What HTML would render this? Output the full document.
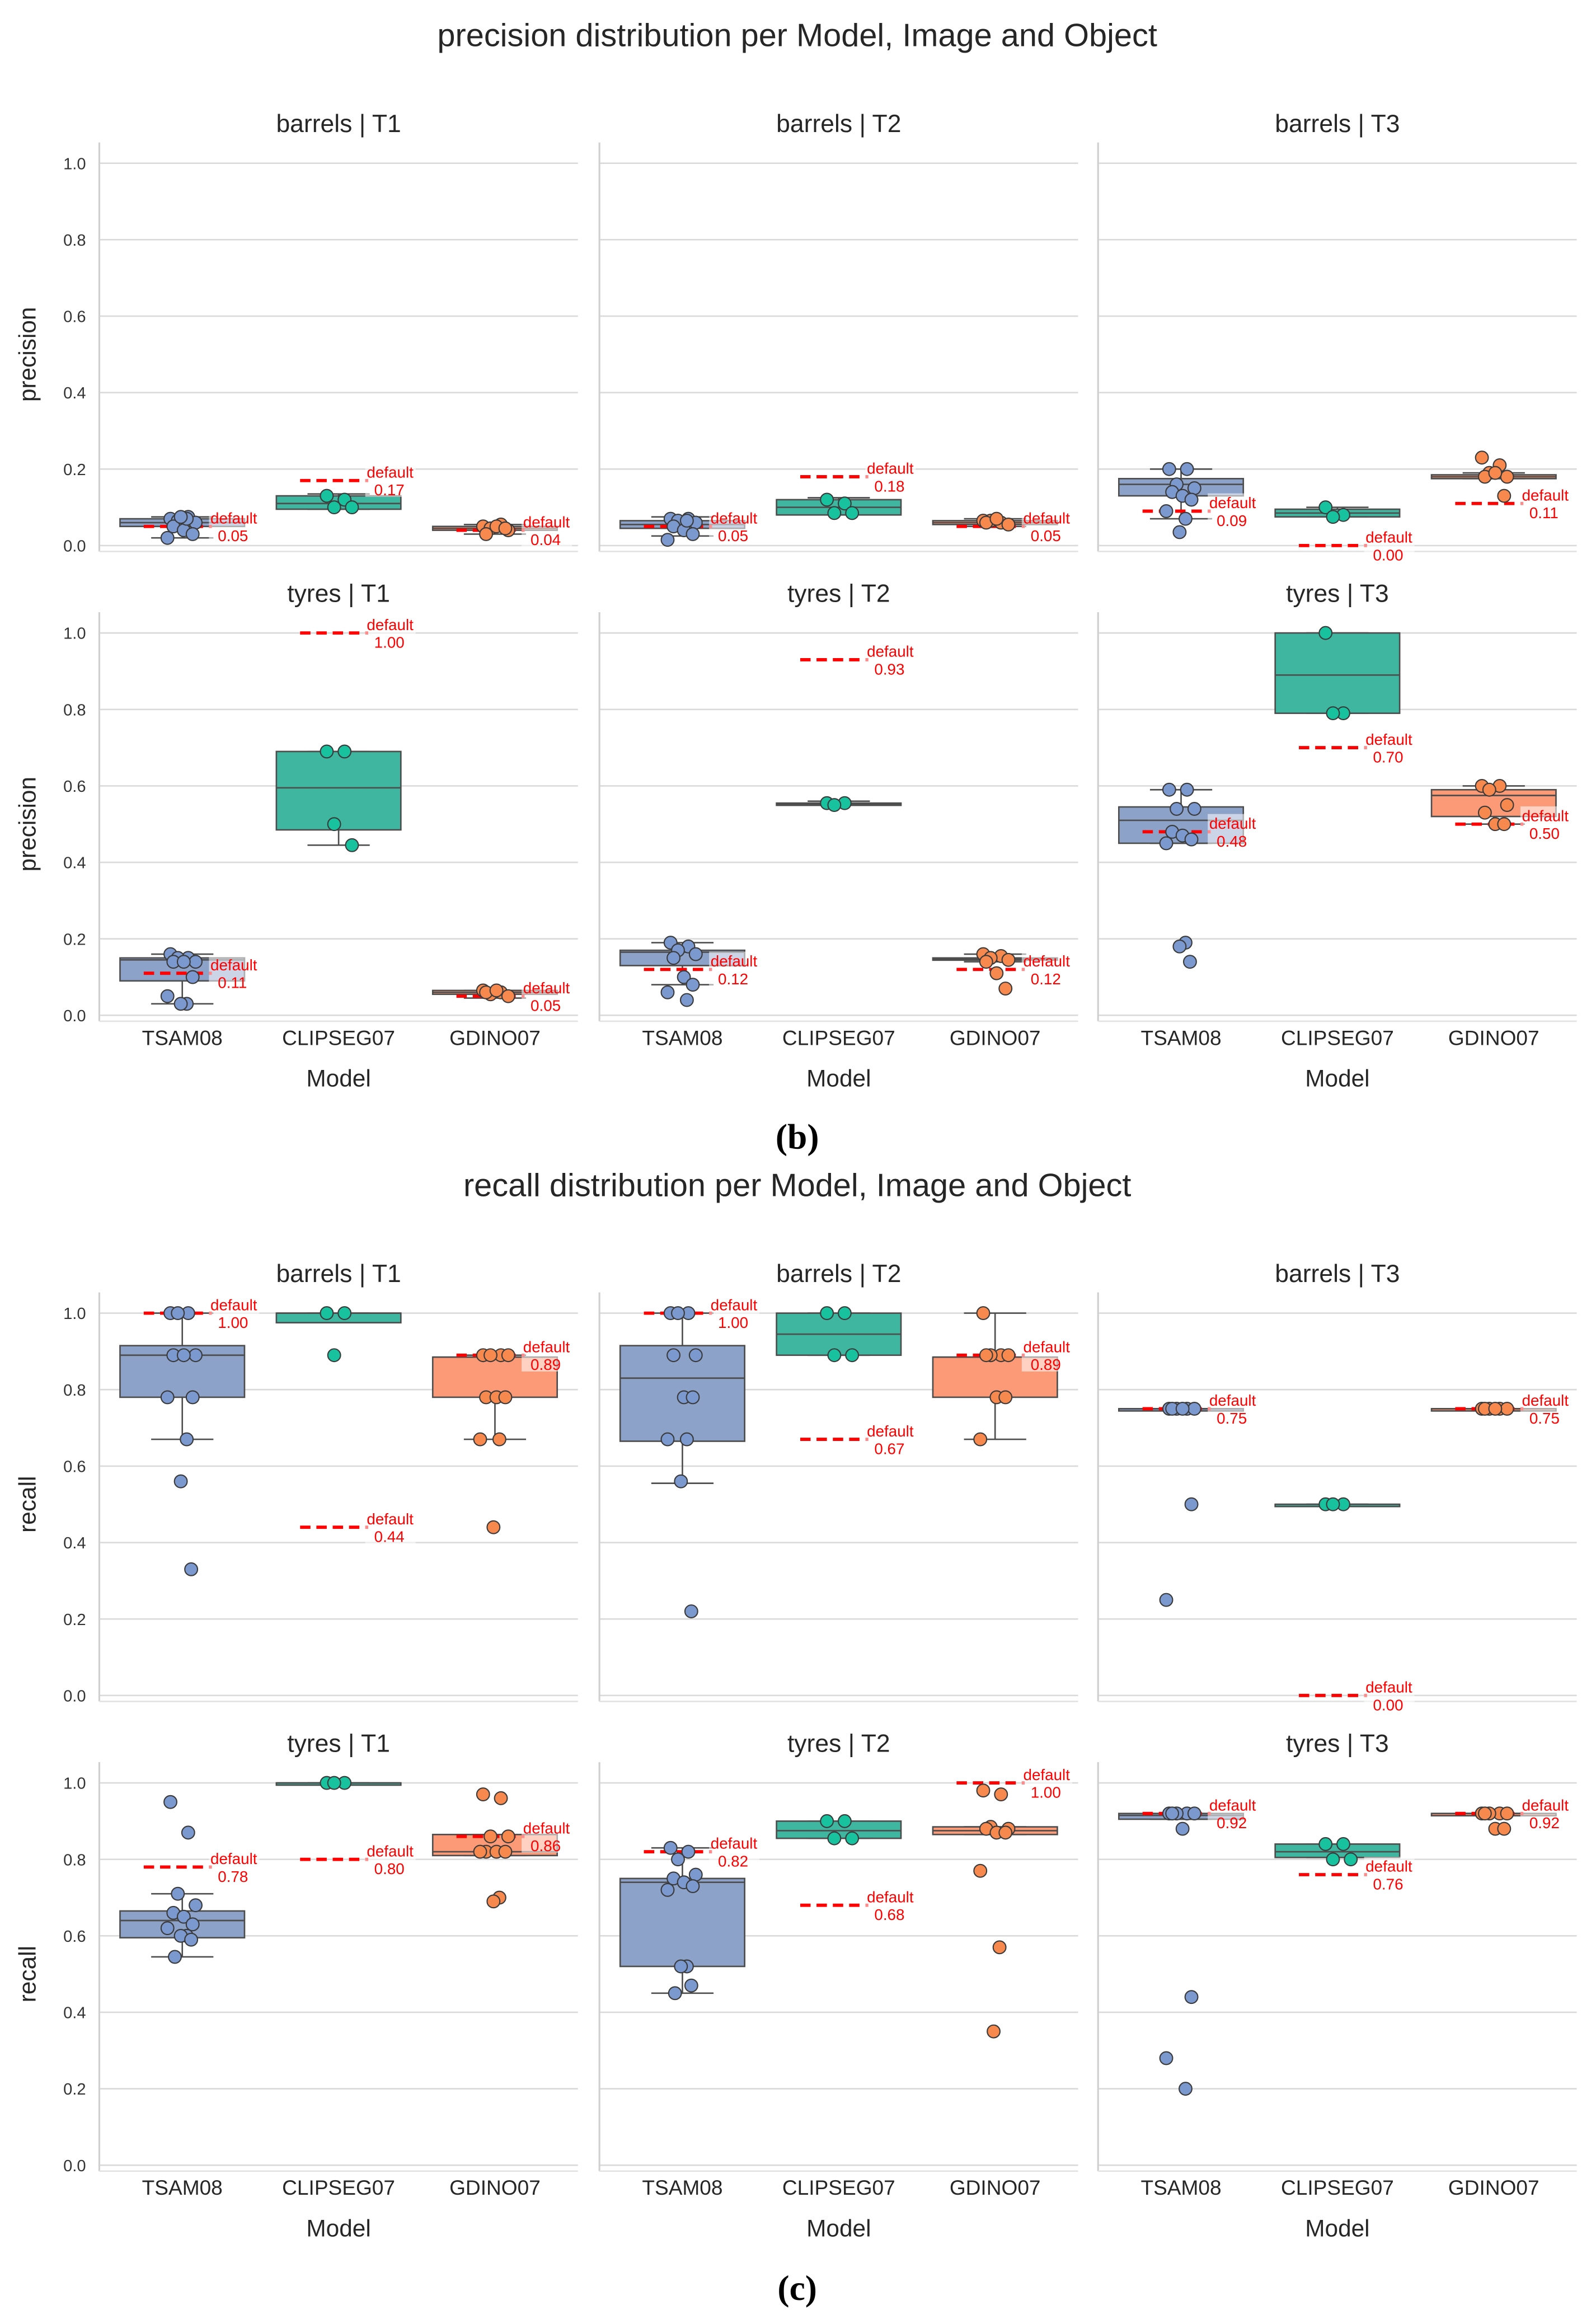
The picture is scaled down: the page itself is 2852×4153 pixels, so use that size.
<!DOCTYPE html>
<html><head><meta charset="utf-8">
<style>
html,body{margin:0;padding:0;background:#fff;}
svg{display:block;}
text{font-family:"Liberation Sans",Arial,sans-serif;}
</style></head>
<body>
<svg id="chart" width="2852" height="4153" viewBox="0 0 1077 1568" xmlns="http://www.w3.org/2000/svg">
<rect x="0" y="0" width="1077" height="1568" fill="#fff"/>
<text x="538" y="31" font-size="21.8" text-anchor="middle" fill="#262626">precision distribution per Model, Image and Object</text>
<text x="538" y="807" font-size="21.8" text-anchor="middle" fill="#262626">recall distribution per Model, Image and Object</text>
<text x="538" y="775" font-size="24" font-weight="bold" text-anchor="middle" fill="#000" style="font-family:'Liberation Serif',serif">(b)</text>
<text x="538" y="1552" font-size="24" font-weight="bold" text-anchor="middle" fill="#000" style="font-family:'Liberation Serif',serif">(c)</text>
<g id="plots"></g>
</svg>
<script>
// ---- data ----
const models = ["TSAM08","CLIPSEG07","GDINO07"];
const objects = ["barrels","tyres"];
const tasks = ["T1","T2","T3"];
const metrics = ["precision","recall"];
const yTicks = [0.0,0.2,0.4,0.6,0.8,1.0];
const yTickLabels = ["0.0","0.2","0.4","0.6","0.8","1.0"];
// box stats per panel per model: [whiskerLow, q1, median, q3, whiskerHigh]
const boxPrecision = [
 [
  [[.02,.05,.06,.07,.075],[.095,.095,.11,.13,.135],[.03,.04,.045,.05,.055]],
  [[.025,.045,.055,.065,.075],[.08,.08,.10,.12,.125],[.05,.055,.06,.065,.07]],
  [[.07,.13,.16,.175,.2],[.075,.075,.085,.095,.1],[.175,.175,.18,.185,.19]]
 ],
 [
  [[.03,.09,.145,.15,.16],[.445,.485,.595,.69,.69],[.045,.055,.06,.065,.065]],
  [[.08,.13,.165,.17,.19],[.55,.55,.553,.555,.56],[.14,.145,.148,.15,.16]],
  [[.45,.45,.51,.545,.59],[.79,.79,.89,1.0,1.0],[.5,.52,.575,.59,.6]]
 ]
];
const boxRecall = [
 [
  [[.67,.78,.89,.915,1.0],[.975,.975,1.0,1.0,1.0],[.67,.78,.885,.885,.89]],
  [[.555,.665,.83,.915,1.0],[.89,.89,.945,1.0,1.0],[.67,.78,.885,.885,1.0]],
  [[.75,.75,.75,.75,.75],[.5,.5,.5,.5,.5],[.75,.75,.75,.75,.75]]
 ],
 [
  [[.545,.595,.64,.665,.71],[1.0,1.0,1.0,1.0,1.0],[.81,.81,.82,.865,.865]],
  [[.45,.52,.74,.75,.83],[.855,.855,.875,.9,.9],[.865,.865,.875,.885,.885]],
  [[.905,.905,.915,.92,.92],[.805,.805,.82,.84,.84],[.92,.92,.92,.92,.92]]
 ]
];
const pointsPrecision = [
 [
  [[.07,.075,.065,.06,.05,.04,.03,.02,.07,.075],[.13,.12,.1,.1],[.05,.055,.045,.04,.03,.05,.045]],
  [[.07,.07,.065,.06,.05,.04,.03,.015,.065],[.12,.11,.085,.085],[.065,.06,.065,.055,.06,.07]],
  [[.2,.2,.16,.15,.14,.13,.12,.09,.07,.035],[.1,.08,.075],[.23,.21,.19,.18,.18,.19,.13]]
 ],
 [
  [[.16,.15,.15,.14,.14,.14,.1,.05,.03,.03],[.69,.69,.5,.445],[.065,.06,.055,.05,.06,.065]],
  [[.19,.18,.17,.16,.15,.1,.08,.06,.04],[.555,.555,.55],[.16,.155,.15,.145,.14,.11,.07]],
  [[.59,.59,.54,.54,.48,.47,.46,.45,.19,.18,.14],[1.0,.79,.79],[.6,.6,.59,.55,.53,.5,.5]]
 ]
];
const pointsRecall = [
 [
  [[1,1,1,.89,.89,.89,.78,.78,.67,.56,.33],[1,1,.89],[.89,.89,.89,.89,.78,.78,.78,.67,.67,.44]],
  [[1,1,1,.89,.89,.78,.78,.67,.67,.56,.22],[1,1,.89,.89],[1,.89,.89,.89,.89,.78,.78,.67]],
  [[.75,.75,.75,.75,.75,.75,.5,.25],[.5,.5,.5],[.75,.75,.75,.75,.75,.75]]
 ],
 [
  [[.95,.87,.71,.68,.66,.65,.63,.62,.6,.6,.59,.545],[1,1,1],[.97,.96,.86,.86,.82,.82,.82,.82,.7,.69]],
  [[.83,.82,.8,.76,.75,.74,.73,.72,.52,.52,.47,.45],[.9,.9,.855,.855],[.98,.97,.885,.88,.88,.87,.87,.77,.57,.35]],
  [[.92,.92,.92,.92,.92,.88,.44,.28,.2],[.84,.84,.8,.8],[.92,.92,.92,.92,.92,.88,.88]]
 ]
];
const defaultsPrecision = [[[.05,.17,.04],[.05,.18,.05],[.09,0.0,.11]],[[.11,1.0,.05],[.12,.93,.12],[.48,.70,.50]]];
const defaultsRecall = [[[1.0,.44,.89],[1.0,.67,.89],[.75,0.0,.75]],[[.78,.80,.86],[.82,.68,1.00],[.92,.76,.92]]];

// ---- layout / style ----
const NS = "http://www.w3.org/2000/svg";
const colX0 = [67, 404.5, 741];
const colW = 323;
const rowOne = [[110,427],[886,1203]];
const unitH = 258;
const boxFill = ["#8da2c9","#3fb6a0","#fc9a78"];
const ptFill = ["#7b98cf","#18c29f","#f7894f"];
const jit = [-8,4,-3,9,-6,1,7,-10,3,-1,6,-5];
const root = document.getElementById("plots");

function mk(tag, attrs, parent, txt){
  const e = document.createElementNS(NS, tag);
  for (const k in attrs) e.setAttribute(k, attrs[k]);
  if (txt !== undefined) e.textContent = txt;
  (parent||root).appendChild(e);
  return e;
}

metrics.forEach((metric, mi) => {
  const boxes = mi===0 ? boxPrecision : boxRecall;
  const pts = mi===0 ? pointsPrecision : pointsRecall;
  const defs = mi===0 ? defaultsPrecision : defaultsRecall;
  objects.forEach((obj, oi) => {
    const y1 = rowOne[mi][oi];
    const yScale = v => y1 + (1 - v) * unitH;
    tasks.forEach((task, ti) => {
      const x0 = colX0[ti];
      const xc = k => x0 + 56 + k * 105.5;
      const g = mk("g", {});
      
      
      const t = mk("text", {x: x0 + colW/2, y: y1 - 21, "font-size": 16.8, "text-anchor": "middle", fill: "#262626"}, g, obj + " | " + task);
      
      
      yTicks.forEach((v, i) => {
        const gl = mk("line", {x1: x0, x2: x0 + colW, y1: yScale(v), y2: yScale(v), stroke: "#dadada", "stroke-width": 1}, g);
        
        
        if (ti === 0) {
          const tl = mk("text", {x: x0 - 9, y: yScale(v) + 4, "font-size": 11, "text-anchor": "end", fill: "#333"}, g, yTickLabels[i]);
          
          
        }
      });
      const sp = mk("line", {x1: x0, x2: x0, y1: y1 - 14, y2: y1 + unitH + 4, stroke: "#d0d0d0", "stroke-width": 1.2}, g);
      
      
      const bs = mk("line", {x1: x0, x2: x0 + colW, y1: y1 + unitH + 4, y2: y1 + unitH + 4, stroke: "#e2e2e2", "stroke-width": 1}, g);
      
      
      if (ti === 0) {
        const yl = mk("text", {x: 0, y: 0, "font-size": 16, "text-anchor": "middle", fill: "#262626", transform: "translate(24," + (y1 + unitH/2) + ") rotate(-90)"}, g, metric);
        
        
      }
      models.forEach((model, k) => {
        const [lo, q1, med, q3, hi] = boxes[oi][ti][k];
        const c = xc(k);
        const bw = 84;
        const w1 = mk("line", {x1: c, x2: c, y1: yScale(hi), y2: yScale(q3), stroke: "#4d4d4d", "stroke-width": 1}, g);
        
        
        const w2 = mk("line", {x1: c, x2: c, y1: yScale(q1), y2: yScale(lo), stroke: "#4d4d4d", "stroke-width": 1}, g);
        
        
        [lo, hi].forEach(v => {
          const cap = mk("line", {x1: c - 21, x2: c + 21, y1: yScale(v), y2: yScale(v), stroke: "#4d4d4d", "stroke-width": 1}, g);
          
          
        });
        const bx = mk("rect", {x: c - bw/2, y: yScale(q3), width: bw, height: Math.max(yScale(q1) - yScale(q3), 1.5), fill: boxFill[k], stroke: "#4d4d4d", "stroke-width": 1}, g);
        
        
        const md = mk("line", {x1: c - bw/2, x2: c + bw/2, y1: yScale(med), y2: yScale(med), stroke: "#4d4d4d", "stroke-width": 1}, g);
        
        
        const dv = defs[oi][ti][k];
        const dl = mk("line", {x1: c - 26, x2: c + 20, y1: yScale(dv), y2: yScale(dv), stroke: "#ff0000", "stroke-width": 2.2, "stroke-dasharray": "7,4"}, g);
        
        
        pts[oi][ti][k].forEach((v, i) => {
          const p = mk("circle", {cx: c + jit[i % jit.length], cy: yScale(v), r: 4.3, fill: ptFill[k], stroke: "#3a3a3a", "stroke-width": 0.8}, g);
          
          
        });
        const lbg = mk("rect", {x: c + 18, y: yScale(dv) - 12, width: 34, height: 23, fill: "#fff", opacity: 0.55}, g);
        
        
        const d1 = mk("text", {x: c + 19, y: yScale(dv) - 2, "font-size": 10.5, fill: "#ff0000"}, g, "default");
        
        
        const d2 = mk("text", {x: c + 24, y: yScale(dv) + 10, "font-size": 10.5, fill: "#ff0000"}, g, dv.toFixed(2));
        
        
        if (oi === 1) {
          const xl = mk("text", {x: c, y: y1 + unitH + 20, "font-size": 14, "text-anchor": "middle", fill: "#262626"}, g, model);
          
          
        }
      });
      if (oi === 1) {
        const xt = mk("text", {x: x0 + colW/2, y: y1 + unitH + 48, "font-size": 16, "text-anchor": "middle", fill: "#262626"}, g, "Model");
        
        
      }
    });
  });
});
</script>
</body></html>
